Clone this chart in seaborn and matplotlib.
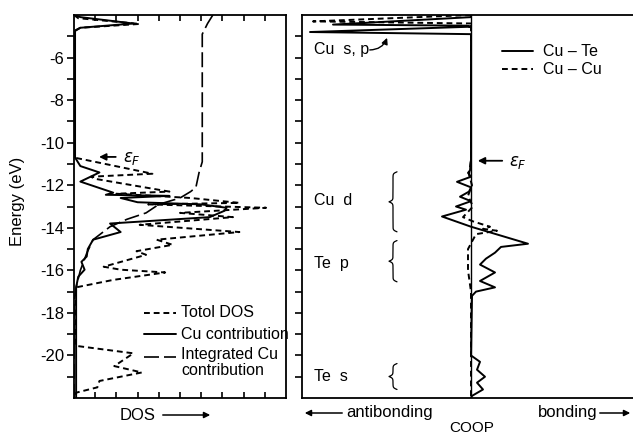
import numpy as np
import matplotlib
matplotlib.use("Agg")
import matplotlib.pyplot as plt
from matplotlib.patches import FancyArrowPatch
import seaborn as sns

# ---------------- data ----------------
# Total DOS (short dashes)
tot_E = [-4.0, -4.15, -4.42, -4.6, -4.75, -10.7, -10.8, -11.46, -11.6, -11.7, -12.3, -12.4,
         -12.6, -12.83, -12.9, -13.06, -13.3, -13.5, -13.86, -14.2, -14.56, -14.8, -15.1,
         -15.27, -15.83, -15.97, -16.1, -16.45, -16.8, -19.5, -19.55, -19.9, -20.5, -20.8,
         -21.2, -21.5, -21.75, -22.0]
tot_D = [0.0, 0.2, 3.1, 0.3, 0.0, 0.0, 0.5, 3.7, 0.8, 1.0, 4.5, 2.0,
         5.5, 7.8, 3.5, 9.06, 5.0, 7.5, 3.1, 7.8, 3.9, 4.65, 2.95,
         3.4, 1.4, 2.2, 4.3, 1.85, 0.1, 0.05, 0.1, 2.8, 1.9, 3.2,
         1.2, 1.1, 0.1, 0.05]

# Cu contribution (solid)
cu_E = [-4.0, -4.1, -4.4, -4.6, -4.75, -10.7, -11.1, -11.4, -11.83, -12.35, -12.45, -12.5,
        -12.6, -12.8, -12.9, -13.06, -13.2, -13.5, -13.8, -14.2, -14.56, -15.0, -15.35,
        -15.6, -15.97, -16.3, -16.8, -22.0]
cu_D = [0.0, 0.3, 2.8, 0.3, 0.05, 0.05, 0.3, 1.2, 0.3, 1.85, 1.5, 4.5,
        2.2, 3.0, 6.0, 7.2, 7.1, 6.4, 1.7, 2.2, 0.9, 0.65, 0.6,
        0.35, 0.5, 0.2, 0.1, 0.1]

# Integrated Cu contribution (long dashes)
int_E = [-4.0, -4.4, -4.9, -10.9, -11.4, -12.1, -12.3, -12.6, -12.9, -13.3, -13.6, -13.95,
         -14.56, -15.2, -16.0, -16.8, -17.5, -22.0]
int_D = [6.55, 6.3, 6.05, 6.05, 5.9, 5.75, 5.5, 5.0, 4.0, 3.4, 2.5, 1.7,
         0.9, 0.6, 0.3, 0.1, 0.0, 0.0]

# COOP Cu-Te (solid)
cute_E = [-4.0, -4.1, -4.45, -4.5, -4.55, -4.8, -4.9, -10.8, -11.3, -11.42, -11.6, -11.84,
          -12.1, -12.3, -12.54, -12.75, -13.0, -13.15, -13.47, -13.95, -14.3, -14.75, -14.9,
          -15.17, -15.45, -15.73, -16.1, -16.5, -16.8, -17.0, -17.2, -20.0, -20.3, -20.67,
          -21.0, -21.28, -21.6, -21.9, -22.0]
cute_C = [0.0, 0.0, -1.38, -0.05, 0.0, -1.61, 0.0, 0.0, -0.01, -0.03, 0.0, -0.14,
          0.0, -0.02, -0.11, 0.0, -0.15, -0.05, -0.29, 0.0, 0.25, 0.57, 0.3,
          0.24, 0.15, 0.09, 0.24, 0.09, 0.24, 0.05, 0.01, 0.0, 0.09, 0.06,
          0.14, 0.06, 0.12, 0.01, 0.0]

# COOP Cu-Cu (short dashes)
cucu_E = [-4.0, -4.3, -4.4, -4.5, -10.8, -11.5, -12.0, -12.5, -13.0, -13.5, -13.7, -13.95,
          -14.05, -14.14, -14.3, -15.0, -16.0, -17.0, -22.0]
cucu_C = [0.0, -1.58, 0.02, 0.0, 0.0, -0.02, 0.01, -0.03, 0.02, -0.08, 0.02, 0.19,
          0.12, 0.26, 0.05, -0.03, -0.03, 0.0, 0.0]

y_ticks = [-6, -8, -10, -12, -14, -16, -18, -20]
y_tick_labels = ["-6", "-8", "-10", "-12", "-14", "-16", "-18", "-20"]
band_labels = ["Cu  s, p", "Cu  d", "Te  p", "Te  s"]
legend_left = ["Totol DOS", "Cu contribution", "Integrated Cu\ncontribution"]
legend_right = ["Cu – Te", "Cu – Cu"]

# ---------------- figure ----------------
sns.set_theme(style="ticks")
plt.rcParams["font.family"] = ["Liberation Sans", "DejaVu Sans"]
plt.rcParams["text.color"] = "black"
plt.rcParams["axes.labelcolor"] = "black"
plt.rcParams["xtick.color"] = "black"
plt.rcParams["ytick.color"] = "black"
plt.rcParams["mathtext.fontset"] = "dejavusans"

fig = plt.figure(figsize=(6.33, 4.34), dpi=100)
W, H = 633.0, 434.0
axL = fig.add_axes([74 / W, 1 - 398 / H, (286 - 74) / W, (398 - 15) / H])
axR = fig.add_axes([302 / W, 1 - 398 / H, (633 - 302) / W, (398 - 15) / H])

lw = 1.4
SD = (0, (3.0, 2.0))
LD = (0, (9, 3))
sns.lineplot(x=tot_D, y=tot_E, sort=False, estimator=None, ax=axL, color="black",
             lw=lw, linestyle=SD)
sns.lineplot(x=cu_D, y=cu_E, sort=False, estimator=None, ax=axL, color="black", lw=lw)
sns.lineplot(x=int_D, y=int_E, sort=False, estimator=None, ax=axL, color="black",
             lw=1.2, linestyle=LD)

sns.lineplot(x=cute_C, y=cute_E, sort=False, estimator=None, ax=axR, color="black", lw=lw)
sns.lineplot(x=cucu_C, y=cucu_E, sort=False, estimator=None, ax=axR, color="black",
             lw=lw, linestyle=SD)
axR.axvline(0, color="black", lw=1.0)

for ax in (axL, axR):
    ax.set_ylim(-22, -4)
    for s in ax.spines.values():
        s.set_linewidth(1.3)
        s.set_color("black")
    ax.set_xlabel("")
    ax.set_ylabel("")

axL.set_xlim(0, 10)
axR.set_xlim(-1.69, 1.62)
axR.spines["right"].set_visible(False)

# left panel ticks
axL.set_yticks(y_ticks)
axL.set_yticklabels(y_tick_labels, fontsize=12)
axL.set_yticks(np.arange(-21, -4, 1), minor=True)
axL.tick_params(axis="y", which="both", direction="out", length=5, width=1.2, pad=2,
                left=True, right=False)
axL.set_xticks(np.arange(1, 10, 1))
axL.set_xticklabels([])
axL.tick_params(axis="x", which="both", direction="in", length=4, width=1.2,
                top=True, bottom=True)

# right panel ticks
axR.set_yticks(np.arange(-21, -4, 1))
axR.set_yticklabels([])
axR.tick_params(axis="y", direction="out", length=5, width=1.2, left=True, right=False)
axR.set_xticks([])

fig.text(18 / W, 1 - 201 / H, "Energy (eV)", rotation=90, ha="center", va="center",
         fontsize=12)

# left legend
axL.plot([3.3, 4.8], [-18.0, -18.0], color="black", lw=lw, linestyle=SD)
axL.text(5.05, -18.0, legend_left[0], fontsize=11.5, va="center", ha="left")
axL.plot([3.3, 4.8], [-19.0, -19.0], color="black", lw=lw)
axL.text(5.05, -19.0, legend_left[1], fontsize=11.5, va="center", ha="left")
axL.plot([3.3, 4.8], [-20.05, -20.05], color="black", lw=1.2, linestyle=LD)
axL.text(5.05, -19.6, legend_left[2], fontsize=11.5, va="top", ha="left", linespacing=1.05)

# Fermi level arrows
axL.annotate("", xy=(1.05, -10.67), xytext=(2.1, -10.67),
             arrowprops=dict(arrowstyle="-|>", color="black", lw=1.3, mutation_scale=10))
axL.text(2.3, -10.75, r"$\epsilon_F$", fontsize=12, va="center", ha="left")
axR.annotate("", xy=(0.04, -10.85), xytext=(0.34, -10.85),
             arrowprops=dict(arrowstyle="-|>", color="black", lw=1.3, mutation_scale=10))
axR.text(0.38, -10.93, r"$\epsilon_F$", fontsize=12, va="center", ha="left")

# right legend
axR.plot([0.31, 0.62], [-5.7, -5.7], color="black", lw=lw)
axR.text(0.72, -5.7, legend_right[0], fontsize=11.5, va="center", ha="left")
axR.plot([0.31, 0.62], [-6.55, -6.55], color="black", lw=lw, linestyle=SD)
axR.text(0.72, -6.55, legend_right[1], fontsize=11.5, va="center", ha="left")


# curly braces (annotation)
def brace(ax, x_right, e1, e2, w=0.08, px_per_e=21.3):
    L = abs(e2 - e1) * px_per_e
    n = 201
    u = np.linspace(0, L / 2, n // 2 + 1)
    beta = 1.2
    half = 1 / (1 + np.exp(-beta * (u - u[0]))) + 1 / (1 + np.exp(-beta * (u - u[-1])))
    yb = np.concatenate([half, half[-2::-1]])
    e = np.linspace(e1, e2, len(yb))
    ax.plot(x_right - w * (yb - 0.5), e, color="black", lw=0.9)


axR.text(-1.57, -5.64, band_labels[0], fontsize=11.5, va="center", ha="left")
axR.annotate("", xy=(-0.83, -4.95), xytext=(-1.04, -5.64),
             arrowprops=dict(arrowstyle="-|>", color="black", lw=1.0, mutation_scale=9,
                             connectionstyle="arc3,rad=0.4"))
for lab, yE, e1, e2 in [(band_labels[1], -12.7, -11.37, -14.19),
                        (band_labels[2], -15.7, -14.6, -16.54),
                        (band_labels[3], -21.0, -20.38, -21.6)]:
    axR.text(-1.57, yE, lab, fontsize=11.5, va="center", ha="left")
    brace(axR, -0.74, e1, e2)

# bottom labels
fig.text(138 / W, 1 - 415 / H, "DOS", fontsize=12, ha="center", va="center")
fig.add_artist(FancyArrowPatch((160 / W, 1 - 415 / H), (213 / W, 1 - 415 / H),
               transform=fig.transFigure, arrowstyle="-|>", mutation_scale=9, lw=1.1,
               color="black"))
fig.text(390 / W, 1 - 413 / H, "antibonding", fontsize=12, ha="center", va="center")
fig.add_artist(FancyArrowPatch((345 / W, 1 - 413 / H), (302 / W, 1 - 413 / H),
               transform=fig.transFigure, arrowstyle="-|>", mutation_scale=9, lw=1.1,
               color="black"))
fig.text(568 / W, 1 - 413 / H, "bonding", fontsize=12, ha="center", va="center")
fig.add_artist(FancyArrowPatch((597 / W, 1 - 413 / H), (633 / W, 1 - 413 / H),
               transform=fig.transFigure, arrowstyle="-|>", mutation_scale=9, lw=1.1,
               color="black"))
fig.text(472 / W, 1 - 428 / H, "COOP", fontsize=11, ha="center", va="center")

fig.savefig("out.png", dpi=100)
